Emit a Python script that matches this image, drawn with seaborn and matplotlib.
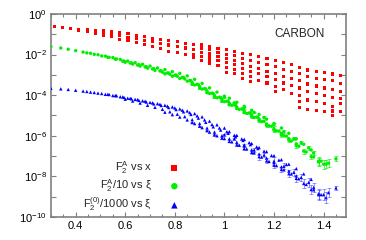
import numpy as np
import pandas as pd
import matplotlib
matplotlib.use("Agg")
import matplotlib.pyplot as plt
import matplotlib.ticker as mticker
import seaborn as sns

RED   = "#FF0000"
GREEN = "#00EE00"
BLUE  = "#0000FF"
FRAME = "#808080"

# ---- F2^A vs x : log10(F2) values for each x bin
red_x = [0.314, 0.347, 0.380, 0.413, 0.446, 0.479, 0.512, 0.545, 0.578,
         0.611, 0.644, 0.677, 0.710, 0.743, 0.776, 0.809, 0.842, 0.875,
         0.908, 0.941, 0.974, 1.007, 1.040, 1.073, 1.106, 1.139, 1.172,
         1.205, 1.238, 1.271, 1.304, 1.337, 1.370, 1.403, 1.436, 1.469]
red_logf = [
    [-0.63], [-0.66], [-0.72],
    [-0.75, -0.81], [-0.77, -0.87], [-0.80, -0.95],
    [-0.84, -0.97, -1.05], [-0.88, -1.02, -1.13], [-0.93, -1.08, -1.25],
    [-0.98, -1.14, -1.32], [-1.05, -1.22, -1.42], [-1.12, -1.30, -1.52],
    [-1.19, -1.38, -1.60], [-1.26, -1.46, -1.72], [-1.32, -1.53, -1.84],
    [-1.38, -1.60, -1.92], [-1.44, -1.68, -2.00],
    [-1.49, -1.74, -1.98, -2.16],
    [-1.53, -1.72, -1.90, -2.08, -2.28],
    [-1.61, -1.77, -1.94, -2.10, -2.27, -2.42],
    [-1.69, -1.88, -2.08, -2.30, -2.56],
    [-1.77, -1.99, -2.19, -2.40, -2.62, -2.87],
    [-1.86, -2.06, -2.28, -2.50, -2.72, -2.95],
    [-1.94, -2.18, -2.43, -2.68, -2.92, -3.20],
    [-2.02, -2.30, -2.57, -2.84, -3.08, -3.32],
    [-2.10, -2.40, -2.68, -2.93, -3.26],
    [-2.18, -2.50, -2.82, -3.08, -3.40],
    [-2.28, -2.58, -2.92, -3.25, -3.58, -3.82],
    [-2.40, -2.72, -3.08, -3.40, -3.72],
    [-2.48, -2.82, -3.18, -3.54, -3.90],
    [-2.63, -2.95, -3.30, -3.65, -4.00, -4.30, -4.62],
    [-2.76, -3.09, -3.45, -3.83, -4.24, -4.70],
    [-2.84, -3.17, -3.55, -3.92, -4.30, -4.74],
    [-2.89, -3.25, -3.65, -4.03, -4.42, -4.80],
    [-2.96, -3.30, -3.72, -4.12, -4.55, -4.78, -5.00],
    [-3.05, -3.41, -3.83, -4.15, -4.42, -4.81],
]

# ---- xi positions of the scaling strands (shared by green and blue)
s1_xi = [0.30, 0.34, 0.37, 0.40, 0.43, 0.46, 0.49, 0.52, 0.55, 0.58, 0.61, 0.64,
         0.67, 0.70, 0.73, 0.76, 0.79, 0.82, 0.85, 0.88, 0.91, 0.94, 0.97, 1.00]
s2_xi = [0.445, 0.475, 0.505, 0.535, 0.565, 0.595, 0.625, 0.655, 0.685, 0.715,
         0.745, 0.775, 0.805, 0.835, 0.865, 0.895, 0.925, 0.955, 0.985, 1.015,
         1.045, 1.075, 1.105, 1.135]
s3_xi = [0.60, 0.63, 0.66, 0.69, 0.72, 0.75, 0.78, 0.81, 0.84, 0.87, 0.90, 0.93,
         0.96, 0.99, 1.02, 1.05, 1.08, 1.11, 1.14, 1.17, 1.20, 1.23, 1.26, 1.29]
s4_xi = [0.76, 0.79, 0.82, 0.85, 0.88, 0.91, 0.94, 0.97, 1.00, 1.03, 1.06, 1.09,
         1.12, 1.15, 1.18, 1.21, 1.24, 1.27, 1.30, 1.33, 1.36, 1.39]
s5_xi = [1.00, 1.04, 1.08, 1.12, 1.16, 1.20, 1.24, 1.28, 1.31, 1.34, 1.36, 1.38,
         1.40, 1.42, 1.45]
s6_xi = [1.02, 1.05, 1.08, 1.11, 1.14, 1.17, 1.20, 1.23, 1.26, 1.29, 1.32, 1.35]
s7_xi = [0.53, 0.56, 0.59, 0.62, 0.65, 0.68, 0.71, 0.74, 0.77, 0.80, 0.83, 0.86,
         0.89, 0.92, 0.95, 0.98, 1.01, 1.04, 1.07, 1.10, 1.13, 1.16, 1.19, 1.22, 1.25]
s8_xi = [0.87, 0.90, 0.93, 0.96, 0.99, 1.02, 1.05, 1.08, 1.11, 1.14, 1.17, 1.20,
         1.23, 1.26, 1.29, 1.32, 1.35, 1.38, 1.41]

# ---- F2^A/10 vs xi : log10 values per strand
g1_logf = [-1.61, -1.68, -1.74, -1.81, -1.88, -1.94, -2.01, -2.08, -2.15, -2.24,
           -2.32, -2.40, -2.48, -2.57, -2.66, -2.74, -2.84, -2.93, -3.05, -3.22,
           -3.42, -3.64, -3.85, -4.05]
g2_logf = [-1.92, -1.99, -2.07, -2.14, -2.22, -2.32, -2.41, -2.50, -2.60, -2.70,
           -2.80, -2.91, -3.01, -3.12, -3.29, -3.48, -3.70, -3.92, -4.12, -4.30,
           -4.49, -4.69, -4.89, -5.09]
g3_logf = [-2.38, -2.47, -2.57, -2.67, -2.78, -2.87, -2.97, -3.07, -3.20, -3.38,
           -3.58, -3.80, -4.02, -4.20, -4.40, -4.58, -4.78, -4.98, -5.18, -5.42,
           -5.65, -5.88, -6.14, -6.40]
g4_logf = [-2.95, -3.07, -3.18, -3.31, -3.50, -3.70, -3.92, -4.13, -4.32, -4.50,
           -4.70, -4.90, -5.10, -5.30, -5.52, -5.76, -6.00, -6.26, -6.52, -6.80,
           -7.05, -7.25]
g5_logf = [-4.10, -4.38, -4.62, -4.85, -5.10, -5.45, -5.80, -6.15, -6.35, -6.60,
           -6.85, -7.30, -7.40, -7.35, -7.14]
g5_err = [0.03, 0.03, 0.04, 0.04, 0.05, 0.06, 0.07, 0.08, 0.08, 0.10, 0.12, 0.18,
          0.22, 0.20, 0.12]
g6_logf = [-4.15, -4.35, -4.55, -4.75, -4.95, -5.18, -5.40, -5.62, -5.88, -6.15,
           -6.42, -6.70]
g7_logf = [-2.14, -2.23, -2.33, -2.42, -2.52, -2.61, -2.71, -2.81, -2.91, -3.02,
           -3.13, -3.28, -3.47, -3.68, -3.90, -4.10, -4.30, -4.48, -4.68, -4.88,
           -5.08, -5.29, -5.53, -5.77, -6.02]
g8_logf = [-3.46, -3.66, -3.88, -4.10, -4.30, -4.48, -4.66, -4.86, -5.06, -5.26,
           -5.49, -5.73, -5.97, -6.22, -6.49, -6.76, -7.03, -7.25, -7.40]
g8_err = [0.02, 0.02, 0.02, 0.03, 0.03, 0.03, 0.04, 0.04, 0.05, 0.05, 0.06, 0.07,
          0.08, 0.09, 0.10, 0.12, 0.14, 0.18, 0.20]

# ---- F2^(0)/1000 vs xi : log10 values per strand
b1_logf = [-3.66, -3.69, -3.72, -3.76, -3.80, -3.85, -3.90, -3.96, -4.02, -4.08,
           -4.15, -4.21, -4.28, -4.36, -4.42, -4.50, -4.58, -4.68, -4.78, -4.91,
           -5.07, -5.28, -5.46, -5.62]
b2_logf = [-3.82, -3.87, -3.92, -3.97, -4.03, -4.11, -4.18, -4.26, -4.34, -4.43,
           -4.51, -4.61, -4.71, -4.82, -4.95, -5.13, -5.34, -5.56, -5.72, -5.88,
           -6.05, -6.23, -6.44, -6.63]
b3_logf = [-4.20, -4.29, -4.39, -4.50, -4.60, -4.70, -4.82, -4.94, -5.06, -5.21,
           -5.40, -5.62, -5.82, -6.00, -6.15, -6.32, -6.50, -6.70, -6.90, -7.10,
           -7.32, -7.53, -7.74, -7.98]
b4_logf = [-4.84, -4.96, -5.08, -5.22, -5.40, -5.60, -5.82, -6.00, -6.14, -6.30,
           -6.47, -6.65, -6.84, -7.05, -7.26, -7.47, -7.68, -7.88, -8.12, -8.40,
           -8.66, -8.90]
b5_logf = [-5.95, -6.15, -6.45, -6.70, -6.95, -7.25, -7.50, -7.80, -8.05, -8.30,
           -8.55, -8.85, -8.90, -8.80, -8.57]
b5_err = [0.04, 0.05, 0.06, 0.08, 0.10, 0.20, 0.14, 0.16, 0.18, 0.20, 0.22, 0.25,
          0.28, 0.24, 0.10]
b6_logf = [-5.80, -5.98, -6.18, -6.38, -6.58, -6.78, -6.98, -7.18, -7.40, -7.62,
           -7.88, -8.15]
b7_logf = [-3.96, -4.02, -4.09, -4.16, -4.22, -4.30, -4.38, -4.45, -4.54, -4.63,
           -4.74, -4.86, -5.02, -5.22, -5.45, -5.62, -5.80, -5.98, -6.16, -6.34,
           -6.55, -6.76, -6.98, -7.20, -7.42]
b8_logf = [-5.35, -5.53, -5.75, -5.95, -6.12, -6.28, -6.45, -6.63, -6.82, -7.03,
           -7.24, -7.45, -7.66, -7.87, -8.10, -8.35, -8.65, -8.90, -9.05]
b8_err = [0.03, 0.03, 0.04, 0.04, 0.05, 0.05, 0.06, 0.08, 0.10, 0.15, 0.12, 0.12,
          0.14, 0.16, 0.18, 0.20, 0.22, 0.25, 0.28]


def _frame(pairs):
    rows = []
    for xs, ls in pairs:
        for x, l in zip(xs, ls):
            rows.append((x, 10.0 ** l))
    return pd.DataFrame(rows, columns=["x", "F"])


red_df = pd.DataFrame([(x, 10.0 ** l) for x, ls in zip(red_x, red_logf) for l in ls],
                      columns=["x", "F"])
green_df = _frame([(s1_xi, g1_logf), (s2_xi, g2_logf), (s3_xi, g3_logf),
                   (s4_xi, g4_logf), (s5_xi, g5_logf), (s6_xi, g6_logf),
                   (s7_xi, g7_logf), (s8_xi, g8_logf)])
blue_df = _frame([(s1_xi, b1_logf), (s2_xi, b2_logf), (s3_xi, b3_logf),
                  (s4_xi, b4_logf), (s5_xi, b5_logf), (s6_xi, b6_logf),
                  (s7_xi, b7_logf), (s8_xi, b8_logf)])


def _errbars(ax, xs, logf, err, color, alpha):
    logf, err = np.asarray(logf), np.asarray(err)
    y = 10.0 ** logf
    ax.errorbar(xs, y, yerr=[y - 10.0 ** (logf - err), 10.0 ** (logf + err) - y],
                fmt="none", ecolor=color, elinewidth=0.6, capsize=1.3,
                capthick=0.6, alpha=alpha, zorder=3)


sns.set_style("ticks")
plt.rcParams["font.family"] = ["Liberation Sans", "DejaVu Sans"]
plt.rcParams["mathtext.fontset"] = "custom"
plt.rcParams["mathtext.rm"] = "Liberation Sans"
plt.rcParams["mathtext.it"] = "Liberation Sans:italic"
plt.rcParams["mathtext.default"] = "regular"

fig = plt.figure(figsize=(3.66, 2.40), dpi=100)
ax = fig.add_axes([0.139, 0.096, 0.806, 0.846])

sns.scatterplot(data=red_df, x="x", y="F", marker="s", s=5, color=RED,
                edgecolor="none", linewidth=0, label="F$_2^A$ vs x", ax=ax, zorder=3)
_errbars(ax, s5_xi, g5_logf, g5_err, GREEN, 0.7)
_errbars(ax, s8_xi, g8_logf, g8_err, GREEN, 0.7)
sns.scatterplot(data=green_df, x="x", y="F", marker="o", s=6, color=GREEN,
                edgecolor="none", linewidth=0, label="F$_2^A$/10 vs ξ", ax=ax, zorder=4)
_errbars(ax, s5_xi, b5_logf, b5_err, BLUE, 0.45)
_errbars(ax, s8_xi, b8_logf, b8_err, BLUE, 0.45)
sns.scatterplot(data=blue_df, x="x", y="F", marker="^", s=6, color=BLUE,
                edgecolor="none", linewidth=0, label="F$_2^{(0)}$/1000 vs ξ", ax=ax, zorder=5)

ax.set_yscale("log")
ax.set_xlim(0.3, 1.49)
ax.set_ylim(1e-10, 1)
ax.set_xlabel("")
ax.set_ylabel("")

ax.xaxis.set_major_locator(mticker.FixedLocator([0.4, 0.6, 0.8, 1.0, 1.2, 1.4]))
ax.xaxis.set_major_formatter(mticker.FuncFormatter(lambda v, p: f"{v:g}"))
ax.xaxis.set_minor_locator(mticker.MultipleLocator(0.05))
ax.yaxis.set_major_locator(mticker.FixedLocator([10.0 ** k for k in range(-10, 1, 2)]))
ax.yaxis.set_minor_locator(mticker.FixedLocator([10.0 ** k for k in range(-9, 0, 2)]))
ax.yaxis.set_minor_formatter(mticker.NullFormatter())

ax.tick_params(which="both", direction="in", top=True, right=True,
               color=FRAME, labelsize=8, labelcolor="black", pad=3)
ax.tick_params(which="major", length=3.5, width=0.8)
ax.tick_params(axis="x", which="minor", length=2, width=0.8)
ax.tick_params(axis="y", which="minor", length=3.5, width=0.8)
for sp in ax.spines.values():
    sp.set_color(FRAME)
    sp.set_linewidth(1.2)

ax.text(0.93, 0.90, "CARBON", transform=ax.transAxes, ha="right", va="center",
        fontsize=8.5)

ax.legend(loc="lower right", bbox_to_anchor=(0.46, -0.02), markerfirst=False,
          frameon=False, fontsize=8, markerscale=1.9, handletextpad=1.6,
          handlelength=0.8, labelspacing=0.1, borderpad=0.2)

fig.savefig("out.png", dpi=100, facecolor="white")
